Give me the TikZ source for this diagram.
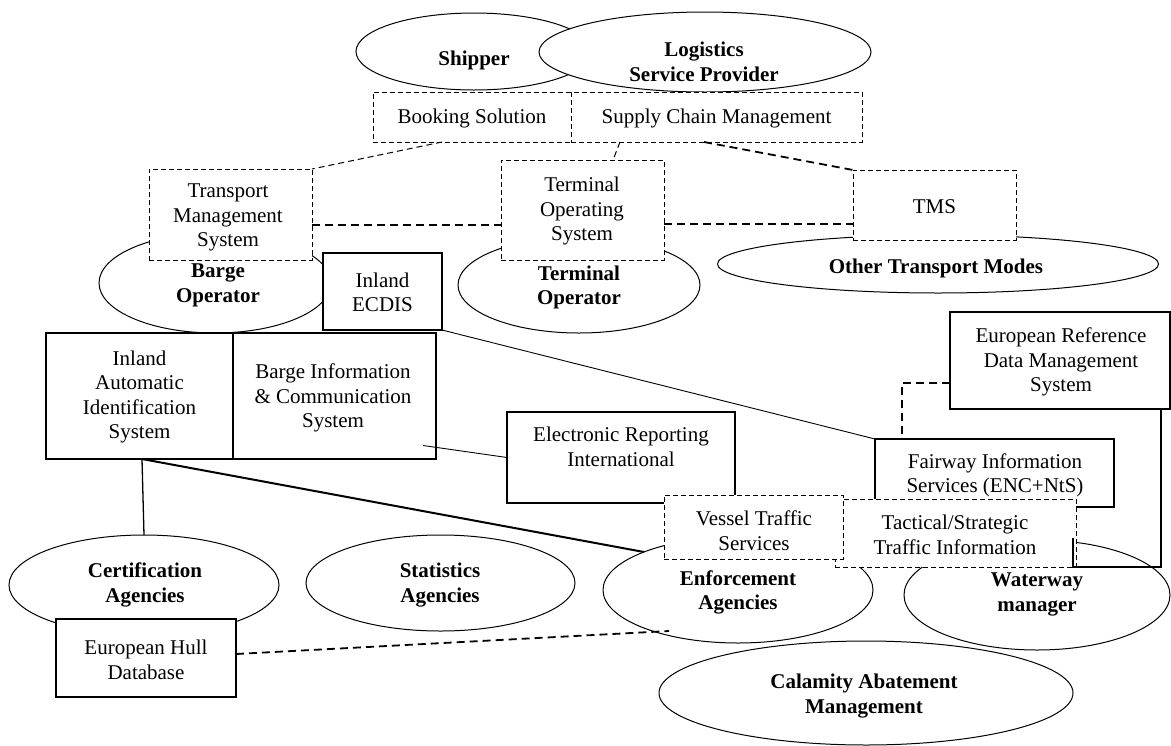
\documentclass[tikz,border=0pt]{standalone}
\usepackage{fontspec}
\setmainfont{Liberation Serif}
\usetikzlibrary{shapes.geometric}
\begin{document}
\begin{tikzpicture}[x=1pt,y=-1pt,
  every node/.style={inner sep=0pt, outer sep=0pt},
  ell/.style={ellipse, draw, fill=white, line width=1pt},
  sbox/.style={rectangle, draw, fill=white, line width=1.1pt},
  dbox/.style={rectangle, draw, fill=white, line width=1pt, dash pattern=on 5pt off 3pt},
  txt/.style={align=center, font=\fontsize{21}{24.5}\selectfont},
  lbl/.style={align=center, font=\fontsize{21}{24.5}\selectfont\bfseries},
  thinlink/.style={line width=0.9pt},
  thicklink/.style={line width=2pt},
  dlink/.style={line width=1pt, dash pattern=on 6pt off 4pt},
  Dlink/.style={line width=1.8pt, dash pattern=on 8pt off 5pt},
]
\useasboundingbox (0,0) rectangle (1171,745);

% top
\node[ell, minimum width=236pt, minimum height=77pt] (ship) at (474,51.5) {};
\node[lbl] (shipT) at (474,60) {Shipper};
\node[ell, minimum width=332pt, minimum height=80pt] (lsp) at (705,52) {};
\node[lbl] (lspT) at (704,62) {Logistics\\Service Provider};
\node[dbox, minimum width=198pt, minimum height=50pt] (bk) at (472,117) {};
\node[txt] (bkT) at (472,118) {Booking Solution};
\node[dbox, minimum width=291pt, minimum height=50pt] (scm) at (716.5,117) {};
\node[txt] (scmT) at (716.5,118) {Supply Chain Management};

% second row
\node[ell, minimum width=232pt, minimum height=100pt] (barge) at (215,283) {};
\node[dbox, minimum width=163pt, minimum height=91pt] (tp) at (230.5,214.5) {};
\node[txt] (tpT) at (228,217.5) {Transport\\Management\\System};
\node[lbl] (bargeT) at (218,285.5) {Barge\\Operator};
\node[sbox, minimum width=119pt, minimum height=77pt] (ecdis) at (382.5,291.5) {};
\node[txt] (ecdisT) at (382.5,292.5) {Inland\\ECDIS};

\node[ell, minimum width=242pt, minimum height=96pt] (term) at (579,285) {};
\node[dbox, minimum width=163pt, minimum height=100pt] (tos) at (582.5,210) {};
\node[txt] (tosT) at (582,211) {Terminal\\Operating\\System};
\node[lbl] (termT) at (579,287.5) {Terminal\\Operator};

\node[ell, minimum width=441pt, minimum height=58pt] (otm) at (938,264) {};
\node[dbox, minimum width=163pt, minimum height=70pt] (tms) at (934.5,205) {};
\node[txt] (tmsT) at (934.5,207) {TMS};
\node[lbl] (otmT) at (936,268) {Other Transport Modes};

% middle
\node[sbox, minimum width=187pt, minimum height=126pt] (ais) at (139.5,396) {};
\node[txt] (aisT) at (139.5,397) {Inland\\Automatic\\Identification\\System};
\node[sbox, minimum width=203pt, minimum height=126pt] (bics) at (334.5,396) {};
\node[txt] (bicsT) at (333,398) {Barge Information\\\& Communication\\System};
\node[sbox, minimum width=220pt, minimum height=97pt] (erd) at (1060,360.5) {};
\node[txt] (erdT) at (1061,362) {European Reference\\Data Management\\System};
\node[sbox, minimum width=228pt, minimum height=91pt] (eri) at (621,457.5) {};
\node[txt] (eriT) at (621,447) {Electronic Reporting\\International};
\node[sbox, minimum width=239pt, minimum height=68pt] (fw) at (994.5,473) {};
\node[txt] (fwT) at (995,475.5) {Fairway Information\\Services (ENC+NtS)};

% bottom ellipses
\node[ell, minimum width=270pt, minimum height=100pt] (cert) at (144,585) {};
\node[lbl] (certT) at (145,585) {Certification\\Agencies};
\node[ell, minimum width=269pt, minimum height=96pt] (stat) at (440.5,583) {};
\node[lbl] (statT) at (440,585) {Statistics\\Agencies};
\node[ell, minimum width=270pt, minimum height=106pt] (enf) at (738,590) {};
\node[lbl] (enfT) at (738,592.5) {Enforcement\\Agencies};
\node[ell, minimum width=266pt, minimum height=110pt] (wat) at (1037,595) {};
\node[lbl] (watT) at (1037,594.5) {Waterway\\manager};
\node[ell, minimum width=414pt, minimum height=104pt] (cal) at (866,693) {};
\node[lbl] (calT) at (864,696) {Calamity Abatement\\Management};

\node[dbox, minimum width=241pt, minimum height=68pt] (ts) at (955.5,533) {};
\node[txt] (tsT) at (955,535) {Tactical/Strategic\\Traffic Information};
\node[dbox, minimum width=179pt, minimum height=64pt] (vts) at (753.5,527) {};
\node[txt] (vtsT) at (754,530.5) {Vessel Traffic\\Services};
\node[sbox, minimum width=180pt, minimum height=78pt] (ehd) at (146,658) {};
\node[txt] (ehdT) at (146,660) {European Hull\\Database};

% connectors
\draw[dlink] ([xshift=-30pt]bk.south) -- (tp.north east);
\draw[dlink] ([xshift=-96.5pt]scm.south) -- ([xshift=30.5pt]tos.north);
\draw[Dlink] ([xshift=-12.5pt]scm.south) -- (tms.north west);
\coordinate (tpE) at ([yshift=-10.5pt]tp.east);
\draw[Dlink] (tpE) -- (tpE -| tos.west);
\coordinate (tosE) at ([yshift=-14pt]tos.east);
\draw[Dlink] (tosE) -- (tosE -| tms.west);
\draw[thinlink] (ecdis.south east) -- (fw.north west);
\coordinate (bicsP) at ([xshift=-13pt,yshift=-49.5pt]bics.east);
\draw[thinlink] (bicsP) -- (eri.west);
\coordinate (aisS) at ([xshift=2.5pt]ais.south);
\draw[line width=1.3pt] (aisS) -- (cert.north);
\draw[thicklink] (aisS) -- (enf.158);
\draw[Dlink] ([yshift=4pt]ehd.east) -- ([xshift=-69pt,yshift=-41pt]enf.center);
\coordinate (erW) at ([yshift=-22.5pt]erd.west);
\coordinate (fwN) at ([xshift=-92.5pt]fw.north);
\draw[Dlink] (erW) -| (fwN);
\coordinate (erS) at ([xshift=101pt]erd.south);
\coordinate (tsE) at ([xshift=-3pt,yshift=-5pt]ts.east);
\draw[thicklink] (erS) -- (erS |- ts.south) -- (tsE |- ts.south) -- (tsE);
\end{tikzpicture}
\end{document}
